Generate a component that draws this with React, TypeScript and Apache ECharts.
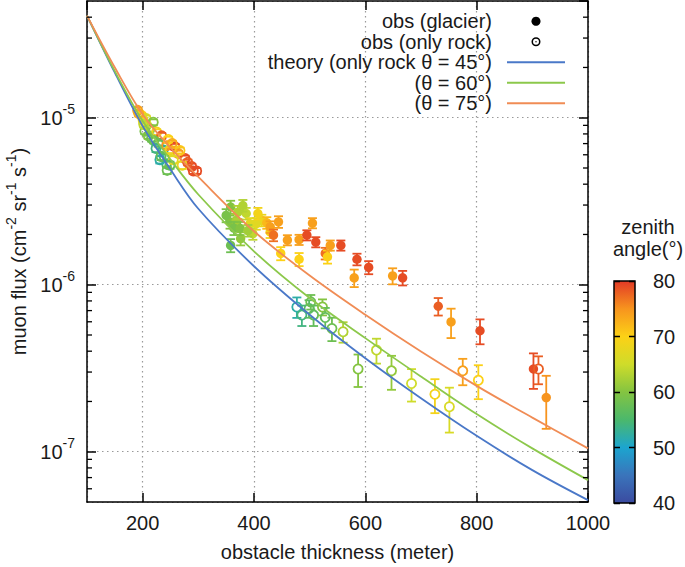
import React, { useEffect, useRef } from 'react';
import * as echarts from 'echarts';

const FONT = '"Liberation Sans", Arial, Helvetica, sans-serif';
const TEXT = '#1a1a1a';

// axis ranges
const thicknessRange = [100, 1000];
const fluxRange = [5e-8, 5e-5];
const angleRange = [40, 80];

// colour scale of zenith angle (40 -> 80 deg)
const palette = ['#3b4ba0', '#3a74bb', '#1ca5cf', '#4bb86c', '#84c441', '#cfdc2a', '#fcd116', '#f7941e', '#e23a26'];

// obs (glacier) : filled circles
const glacierThickness = [358, 357, 368, 358, 376, 386, 393, 398, 414, 404, 364, 375, 371, 350, 380, 389, 407, 423,
  429, 429, 435, 444, 448, 460, 481, 481, 495, 505, 511, 528, 532, 537, 556, 585, 580, 606, 649, 667, 731, 754, 806, 902, 925];
const glacierFlux = [2.92e-6, 2.38e-6, 2.43e-6, 1.72e-6, 1.89e-6, 2.67e-6, 2.32e-6, 2.02e-6, 2.43e-6, 2.32e-6, 2.18e-6, 2.18e-6, 2.72e-6, 2.6e-6, 2.98e-6, 2.11e-6, 2.67e-6, 2.35e-6,
  2.07e-6, 2.22e-6, 1.98e-6, 2.38e-6, 1.54e-6, 1.85e-6, 1.86e-6, 1.42e-6, 1.98e-6, 2.34e-6, 1.80e-6, 1.54e-6, 1.47e-6, 1.72e-6, 1.72e-6,
  1.42e-6, 1.10e-6, 1.27e-6, 1.13e-6, 1.10e-6, 7.43e-7, 5.99e-7, 5.30e-7, 3.13e-7, 2.11e-7];
const glacierAngle = [60, 60, 62, 58, 61, 64, 67, 64, 68, 67, 59, 60, 63, 59, 63, 62, 69, 72,
  69, 74, 77, 74, 70, 74, 74, 70, 79, 74, 79, 77, 70, 74, 79, 79, 74, 79, 74, 79, 78, 74, 79, 79, 75];
const glacierRelErr = [0.09, 0.09, 0.09, 0.09, 0.09, 0.08, 0.08, 0.08, 0.08, 0.08, 0.09, 0.09, 0.09, 0.09, 0.08, 0.08, 0.08, 0.08,
  0.08, 0.08, 0.08, 0.08, 0.09, 0.07, 0.07, 0.09, 0.07, 0.07, 0.07, 0.08, 0.09, 0.07, 0.07, 0.08, 0.12, 0.09, 0.11, 0.10, 0.12, 0.20, 0.17, 0.24, 0.35];

// obs (only rock) : open circles
const rockThickness = [191, 198, 201, 206, 207, 213, 219, 204, 210, 216, 225, 234, 228, 237, 243, 239, 249, 258, 264, 243, 255, 276, 288, 291, 297, 231, 249,
  193, 202, 220, 224, 233, 246, 253, 267, 244, 271, 281,
  477, 486, 499, 502, 507, 523, 528, 540, 560, 587, 620, 647, 683, 725, 751, 775, 803, 911];
const rockFlux = [1.106e-5, 1.03e-5, 9.6e-6, 9.9e-6, 9.0e-6, 8.6e-6, 9.4e-6, 8.3e-6, 7.8e-6, 7.5e-6, 8.2e-6, 7.8e-6, 7.0e-6, 6.4e-6, 6.8e-6, 5.8e-6, 6.4e-6, 6.7e-6, 6.1e-6, 5.3e-6, 5.6e-6, 5.7e-6, 5.1e-6, 4.8e-6, 4.8e-6, 5.6e-6, 5.2e-6,
  1.06e-5, 9.1e-6, 7.3e-6, 6.55e-6, 5.87e-6, 7.4e-6, 7.0e-6, 6.37e-6, 4.84e-6, 5.19e-6, 5.4e-6,
  7.36e-7, 6.58e-7, 7.21e-7, 7.89e-7, 6.58e-7, 7.36e-7, 6.37e-7, 5.47e-7, 5.23e-7, 3.13e-7, 4.06e-7, 3.05e-7, 2.56e-7, 2.21e-7, 1.86e-7, 3.05e-7, 2.68e-7, 3.13e-7];
const rockAngle = [74, 70, 68, 66, 65, 62, 60, 59, 60, 58, 69, 78, 57, 53, 75, 56, 68, 79, 74, 55, 67, 79, 79, 79, 79, 52, 57,
  73, 64, 58, 54, 57, 70, 73, 71, 58, 68, 78,
  52, 54, 56, 58, 57, 60, 57, 58, 63, 60, 64, 61, 65, 69, 66, 74, 70, 78];
const rockRelErr = [0.04, 0.04, 0.04, 0.04, 0.04, 0.04, 0.04, 0.04, 0.04, 0.04, 0.04, 0.04, 0.04, 0.05, 0.04, 0.05, 0.04, 0.04, 0.04, 0.05, 0.05, 0.04, 0.04, 0.04, 0.04, 0.05, 0.05,
  0.04, 0.04, 0.04, 0.05, 0.05, 0.04, 0.04, 0.04, 0.05, 0.05, 0.04,
  0.14, 0.14, 0.12, 0.10, 0.14, 0.11, 0.14, 0.16, 0.14, 0.22, 0.17, 0.23, 0.22, 0.23, 0.30, 0.18, 0.23, 0.19];

// theory curves (only rock)
const theoryThickness = [100, 150, 200, 250, 300, 400, 500, 600, 700, 800, 900, 1000];
const theoryFlux45 = [4.09e-5, 1.86e-5, 8.91e-6, 4.9e-6, 2.85e-6, 1.29e-6, 6.61e-7, 3.63e-7, 2.09e-7, 1.245e-7, 7.76e-8, 5.13e-8];
const theoryFlux60 = [4.09e-5, 1.9e-5, 9.55e-6, 5.62e-6, 3.47e-6, 1.585e-6, 8.32e-7, 4.79e-7, 2.82e-7, 1.68e-7, 1.047e-7, 6.76e-8];
const theoryFlux75 = [4.09e-5, 2.0e-5, 1.047e-5, 6.61e-6, 4.42e-6, 2.09e-6, 1.135e-6, 6.61e-7, 3.98e-7, 2.48e-7, 1.6e-7, 1.047e-7];

const theoryNames = ['theory (only rock θ = 45°)', '(θ = 60°)', '(θ = 75°)'];
const theoryColors = ['#4a78c8', '#8cc84b', '#f08c55'];

// log-axis minor ticks
const minorTickMantissas = [2, 3, 4, 5, 6, 7, 8, 9];
const minorTickDecades = [1e-8, 1e-7, 1e-6, 1e-5];

const ringIcon = 'path://M5,0A5,5,0,1,1,5,10A5,5,0,1,1,5,0ZM5,1.7A3.3,3.3,0,1,0,5,8.3A3.3,3.3,0,1,0,5,1.7ZM5,4.2A0.8,0.8,0,1,1,5,5.8A0.8,0.8,0,1,1,5,4.2Z';
const lineIcon = 'path://M0,0L58,0L58,2L0,2Z';

export default function App() {
  const ref = useRef<HTMLDivElement>(null);

  useEffect(() => {
    if (!ref.current) return;
    const chart = echarts.init(ref.current, null, { renderer: 'svg' });

    const glacierData = glacierThickness.map((t, i) => [t, glacierFlux[i], glacierAngle[i], glacierRelErr[i]]);
    const rockData = rockThickness.map((t, i) => [t, rockFlux[i], rockAngle[i], rockRelErr[i]]);
    const minorData: number[][] = [];
    minorTickDecades.forEach((d) => minorTickMantissas.forEach((m) => {
      const v = m * d;
      if (v > fluxRange[0] * 1.001 && v < fluxRange[1] * 0.999) minorData.push([thicknessRange[0], v]);
    }));

    const supRich = {
      b: { fontSize: 20, lineHeight: 20, verticalAlign: 'bottom', fontFamily: FONT, color: TEXT },
      s: { fontSize: 14, lineHeight: 14, padding: [0, 0, 12, 0], verticalAlign: 'bottom', fontFamily: FONT, color: TEXT },
    };

    const makeErrRender = (filled: boolean) => (params: any, api: any) => {
      const x = api.value(0);
      const y = api.value(1);
      const rel = api.value(3);
      const c = api.coord([x, y]);
      const top = api.coord([x, y * (1 + rel)]);
      const bot = api.coord([x, y * (1 - rel)]);
      const color = api.visual('color');
      const r = filled ? 4.7 : 4.6;
      const cap = 4.5;
      const ls = { stroke: color, lineWidth: 1.8 };
      const children: any[] = [];
      if (filled) {
        children.push({ type: 'line', shape: { x1: c[0], y1: top[1], x2: c[0], y2: bot[1] }, style: ls });
      } else {
        if (c[1] - top[1] > r) children.push({ type: 'line', shape: { x1: c[0], y1: top[1], x2: c[0], y2: c[1] - r }, style: ls });
        if (bot[1] - c[1] > r) children.push({ type: 'line', shape: { x1: c[0], y1: c[1] + r, x2: c[0], y2: bot[1] }, style: ls });
      }
      children.push({ type: 'line', shape: { x1: c[0] - cap, y1: top[1], x2: c[0] + cap, y2: top[1] }, style: ls });
      children.push({ type: 'line', shape: { x1: c[0] - cap, y1: bot[1], x2: c[0] + cap, y2: bot[1] }, style: ls });
      children.push(filled
        ? { type: 'circle', shape: { cx: c[0], cy: c[1], r }, style: { fill: color } }
        : { type: 'circle', shape: { cx: c[0], cy: c[1], r }, style: { fill: 'none', stroke: color, lineWidth: 1.8 } });
      return { type: 'group', children };
    };

    const theoryFluxes = [theoryFlux45, theoryFlux60, theoryFlux75];

    const axisLineStyle = { color: '#000', width: 1.5 };
    const gridLineStyle = { color: '#9a9a9a', type: [1.5, 3.5], width: 1.2 };

    const option: any = {
      animation: false,
      textStyle: { fontFamily: FONT },
      grid: [
        { left: 87, top: 1, width: 501, height: 501, outerBoundsMode: 'none' },
        { left: 614, top: 281, width: 21, height: 222, outerBoundsMode: 'none' },
      ],
      legend: {
        orient: 'vertical',
        right: 120,
        top: 11,
        padding: 0,
        itemGap: 0,
        align: 'right',
        itemWidth: 58,
        itemHeight: 9,
        selectedMode: false,
        textStyle: { fontSize: 20, color: TEXT, fontFamily: FONT, lineHeight: 20.5, padding: [0, 10, 0, 0] },
        data: [
          { name: 'obs (glacier)', icon: 'circle', itemStyle: { color: '#000' } },
          { name: 'obs (only rock)', icon: ringIcon, itemStyle: { color: '#000' } },
          ...theoryNames.map((n, k) => ({ name: n, icon: lineIcon, itemStyle: { color: theoryColors[k] } })),
        ],
      },
      visualMap: {
        type: 'continuous',
        show: false,
        min: angleRange[0],
        max: angleRange[1],
        dimension: 2,
        seriesIndex: [3, 4],
        inRange: { color: palette },
      },
      xAxis: [
        {
          type: 'value', gridIndex: 0, min: thicknessRange[0], max: thicknessRange[1], splitNumber: 5,
          position: 'bottom',
          axisLine: { show: true, onZero: false, lineStyle: axisLineStyle },
          axisTick: { show: true, inside: true, length: 9, lineStyle: axisLineStyle },
          axisLabel: { fontSize: 20, margin: 11, color: TEXT, fontFamily: FONT, showMinLabel: false, formatter: (v: number) => String(v) },
          splitLine: { show: true, lineStyle: gridLineStyle },
          name: 'obstacle thickness (meter)', nameLocation: 'middle', nameGap: 40,
          nameTextStyle: { fontSize: 20, color: TEXT, fontFamily: FONT },
        },
        {
          type: 'value', gridIndex: 0, min: thicknessRange[0], max: thicknessRange[1], splitNumber: 5,
          position: 'top',
          axisLine: { show: true, onZero: false, lineStyle: axisLineStyle },
          axisTick: { show: true, inside: true, length: 9, lineStyle: axisLineStyle },
          axisLabel: { show: false },
          splitLine: { show: false },
        },
        { type: 'value', gridIndex: 1, min: 0, max: 1, show: false },
      ],
      yAxis: [
        {
          type: 'log', logBase: 10, gridIndex: 0, min: fluxRange[0], max: fluxRange[1],
          position: 'left',
          axisLine: { show: true, onZero: false, lineStyle: axisLineStyle },
          axisTick: { show: true, inside: true, length: 9, lineStyle: axisLineStyle },
          axisLabel: {
            margin: 12, showMinLabel: false, showMaxLabel: false,
            formatter: (v: number) => `{b|10}{s|${Math.round(Math.log10(v))}}`,
            rich: supRich,
          },
          splitLine: { show: true, lineStyle: gridLineStyle },
          name: '{n|muon flux (cm}{s|-2}{n| sr}{s|-1}{n| s}{s|-1}{n|)}',
          nameLocation: 'middle', nameRotate: 90, nameGap: 50,
          nameTextStyle: {
            rich: {
              n: { fontSize: 20, lineHeight: 20, verticalAlign: 'bottom', fontFamily: FONT, color: TEXT },
              s: { fontSize: 14, lineHeight: 14, padding: [0, 0, 11, 0], verticalAlign: 'bottom', fontFamily: FONT, color: TEXT },
            },
          },
        },
        {
          type: 'log', logBase: 10, gridIndex: 0, min: fluxRange[0], max: fluxRange[1],
          position: 'right',
          axisLine: { show: true, onZero: false, lineStyle: axisLineStyle },
          axisTick: { show: true, inside: true, length: 9, lineStyle: axisLineStyle },
          axisLabel: { show: false },
          splitLine: { show: false },
        },
        {
          type: 'value', gridIndex: 1, min: angleRange[0], max: angleRange[1], interval: 10,
          position: 'right', z: 5,
          axisLine: { show: false },
          axisTick: { show: false },
          axisLabel: { fontSize: 20, margin: 18, color: TEXT, fontFamily: FONT },
          splitLine: { show: true, lineStyle: { color: '#000', type: [6, 9], width: 1.3 } },
        },
      ],
      graphic: [
        {
          type: 'text', x: 648, y: 216, silent: true,
          style: { text: 'zenith\nangle(°)', fontSize: 20, lineHeight: 22, align: 'center', verticalAlign: 'top', fill: TEXT, fontFamily: FONT },
        },
      ],
      series: [
        ...theoryFluxes.map((ys, k) => ({
          type: 'line',
          name: theoryNames[k],
          xAxisIndex: 0, yAxisIndex: 0,
          data: theoryThickness.map((t, i) => [t, ys[i]]),
          symbol: 'none', showSymbol: false, smooth: 0.35,
          lineStyle: { color: theoryColors[k], width: 1.8 },
          itemStyle: { color: theoryColors[k] },
          z: 4, silent: true,
        })),
        {
          type: 'custom', name: 'obs (glacier)', xAxisIndex: 0, yAxisIndex: 0,
          data: glacierData, encode: { x: 0, y: 1 }, renderItem: makeErrRender(true),
          itemStyle: { color: '#000' }, z: 2, silent: true,
        },
        {
          type: 'custom', name: 'obs (only rock)', xAxisIndex: 0, yAxisIndex: 0,
          data: rockData, encode: { x: 0, y: 1 }, renderItem: makeErrRender(false),
          itemStyle: { color: '#000' }, z: 3, silent: true,
        },
        {
          type: 'custom', name: 'minor ticks', xAxisIndex: 0, yAxisIndex: 0,
          data: minorData, encode: { x: 0, y: 1 }, silent: true, z: 6,
          renderItem: (params: any, api: any) => {
            const v = api.value(1);
            const pL = api.coord([thicknessRange[0], v]);
            const pR = api.coord([thicknessRange[1], v]);
            const st = { stroke: '#000', lineWidth: 1.3 };
            return {
              type: 'group',
              children: [
                { type: 'line', shape: { x1: pL[0], y1: pL[1], x2: pL[0] + 5, y2: pL[1] }, style: st },
                { type: 'line', shape: { x1: pR[0] - 5, y1: pR[1], x2: pR[0], y2: pR[1] }, style: st },
              ],
            };
          },
        },
        {
          type: 'custom', name: 'colorbar', xAxisIndex: 2, yAxisIndex: 2,
          data: [[0, angleRange[0]]], silent: true, z: 2,
          renderItem: (params: any, api: any) => {
            const p1 = api.coord([0, angleRange[1]]);
            const p2 = api.coord([1, angleRange[0]]);
            return {
              type: 'rect',
              shape: { x: p1[0], y: p1[1], width: p2[0] - p1[0], height: p2[1] - p1[1] },
              style: {
                fill: new echarts.graphic.LinearGradient(0, 1, 0, 0,
                  palette.map((c, i) => ({ offset: i / (palette.length - 1), color: c }))),
                stroke: '#000', lineWidth: 1.5,
              },
            };
          },
        },
      ],
    };

    chart.setOption(option);
    return () => chart.dispose();
  }, []);

  return <div ref={ref} style={{ position: 'absolute', left: 0, top: 0, width: 685, height: 567 }} />;
}
